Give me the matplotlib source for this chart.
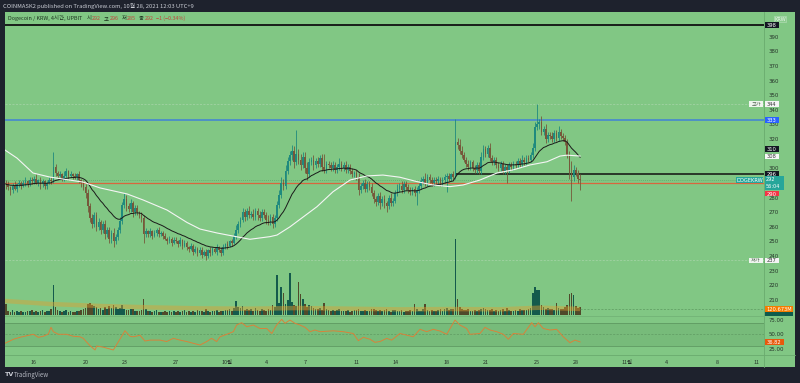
import numpy as np
import pandas as pd
import matplotlib
matplotlib.use('Agg')
import matplotlib.pyplot as plt
from matplotlib.patches import Rectangle

plt.rcParams['font.family'] = ['Noto Sans CJK KR', 'DejaVu Sans']

# 4시간봉, 9/13 20시 ~ 10/28 08시 (x = 9/16 0시 기준 일수)
first_open = 290
closes = [
    289,
    287, 285, 288, 286, 289, 290,   # 9/14
    288, 290, 291, 289, 292, 291,   # 9/15
    293, 290, 292, 289, 291, 288,   # 9/16
    290, 292, 291, 301, 297, 295,   # 9/17
    296, 293, 295, 298, 295, 296,   # 9/18
    295, 294, 296, 292, 290, 287,   # 9/19
    283, 274, 266, 262, 268, 260,   # 9/20
    263, 258, 262, 255, 258, 252,   # 9/21
    256, 250, 253, 258, 264, 275,   # 9/22
    279, 274, 272, 276, 270, 273,   # 9/23
    270, 268, 266, 255, 257, 255,   # 9/24
    257, 254, 256, 258, 255, 256,   # 9/25
    254, 252, 250, 252, 249, 251,   # 9/26
    250, 248, 251, 247, 249, 246,   # 9/27
    245, 247, 243, 245, 242, 244,   # 9/28
    241, 243, 240, 244, 242, 245,   # 9/29
    243, 246, 244, 242, 246, 248,   # 9/30
    247, 250, 249, 254, 258, 262,   # 10/1
    265, 270, 267, 271, 268, 269,   # 10/2
    267, 271, 268, 266, 270, 268,   # 10/3
    265, 263, 267, 262, 266, 275,   # 10/4
    282, 290, 288, 298, 305, 309,   # 10/5
    312, 304, 310, 306, 302, 308,   # 10/6
    300, 296, 304, 306, 302, 305,   # 10/7
    303, 307, 301, 299, 303, 302,   # 10/8
    300, 302, 299, 301, 303, 300,   # 10/9
    302, 299, 301, 298, 296, 297,   # 10/10
    294, 285, 288, 290, 286, 289,   # 10/11
    287, 283, 279, 277, 281, 276,   # 10/12
    279, 276, 274, 280, 276, 278,   # 10/13
    283, 286, 288, 285, 289, 287,   # 10/14
    285, 284, 286, 283, 285, 288,   # 10/15
    291, 293, 290, 294, 292, 290,   # 10/16
    292, 291, 293, 290, 292, 294,   # 10/17
    295, 293, 296, 294, 318, 316,   # 10/18
    312, 309, 306, 303, 301, 304,   # 10/19
    300, 299, 302, 298, 308, 313,   # 10/20
    310, 314, 307, 304, 306, 302,   # 10/21
    300, 303, 298, 301, 299, 302,   # 10/22
    301, 303, 302, 305, 303, 306,   # 10/23
    304, 307, 306, 309, 314, 328,   # 10/24
    330, 332, 325, 327, 320, 323,   # 10/25
    322, 320, 324, 321, 325, 322,   # 10/26
    321, 318, 309, 297, 294, 299,   # 10/27
    297, 293, 292,                  # 10/28
]
up_wick = [
    2,
    2, 1, 2, 3, 1, 2,
    1, 2, 3, 1, 2, 2,
    2, 3, 1, 2, 2, 1,
    1, 2, 2, 10, 2, 1,
    2, 1, 3, 2, 1, 2,
    1, 2, 1, 2, 1, 2,
    2, 3, 2, 3, 2, 2,
    3, 2, 2, 3, 2, 2,
    2, 3, 2, 2, 3, 2,
    4, 3, 2, 3, 2, 2,
    2, 1, 2, 2, 2, 1,
    2, 1, 2, 1, 2, 1,
    1, 2, 1, 2, 1, 2,
    2, 1, 2, 1, 2, 1,
    1, 2, 1, 2, 1, 2,
    2, 1, 2, 1, 2, 1,
    1, 2, 1, 2, 2, 1,
    2, 1, 2, 2, 3, 2,
    2, 3, 2, 2, 3, 2,
    3, 2, 2, 3, 2, 2,
    2, 3, 2, 2, 2, 3,
    3, 4, 3, 4, 3, 3,
    4, 3, 16, 3, 4, 3,
    3, 4, 3, 2, 3, 2,
    3, 2, 3, 9, 2, 2,
    2, 3, 2, 2, 4, 2,
    2, 3, 2, 2, 2, 1,
    2, 3, 2, 2, 3, 2,
    2, 3, 2, 2, 2, 3,
    2, 3, 2, 2, 3, 2,
    2, 3, 2, 3, 2, 2,
    2, 2, 1, 2, 2, 2,
    3, 2, 4, 2, 2, 2,
    2, 2, 2, 1, 2, 2,
    2, 2, 1, 2, 16, 3,
    4, 3, 2, 2, 3, 2,
    2, 2, 2, 2, 3, 3,
    2, 2, 3, 2, 2, 2,
    2, 2, 2, 2, 2, 2,
    2, 2, 2, 2, 2, 3,
    2, 2, 2, 2, 3, 4,
    14, 2, 4, 2, 3, 2,
    2, 3, 2, 2, 4, 2,
    2, 2, 2, 3, 8, 3,
    2, 2, 3,
]
dn_wick = [
    3,
    2, 3, 2, 1, 2, 2,
    2, 1, 2, 2, 1, 2,
    2, 1, 2, 3, 2, 2,
    2, 1, 2, 1, 2, 2,
    1, 2, 2, 1, 2, 1,
    2, 1, 2, 2, 3, 2,
    3, 4, 3, 3, 2, 3,
    2, 3, 2, 3, 2, 3,
    3, 4, 2, 2, 2, 2,
    2, 3, 2, 2, 3, 2,
    2, 2, 3, 6, 2, 2,
    2, 2, 1, 2, 2, 1,
    2, 1, 2, 1, 2, 1,
    1, 2, 1, 2, 1, 2,
    2, 1, 2, 1, 2, 1,
    2, 1, 3, 1, 2, 1,
    1, 2, 1, 2, 1, 1,
    2, 1, 2, 1, 2, 2,
    2, 2, 3, 2, 2, 2,
    2, 2, 3, 2, 2, 2,
    3, 2, 2, 3, 2, 2,
    2, 2, 3, 2, 2, 3,
    3, 4, 2, 3, 3, 2,
    3, 4, 2, 2, 3, 2,
    2, 2, 3, 2, 2, 2,
    2, 2, 2, 2, 2, 2,
    2, 2, 2, 2, 2, 2,
    2, 3, 2, 2, 2, 2,
    2, 2, 3, 3, 2, 4,
    2, 3, 4, 2, 2, 2,
    2, 2, 2, 2, 2, 2,
    2, 2, 2, 2, 8, 2,
    2, 2, 2, 2, 2, 2,
    2, 2, 2, 2, 2, 2,
    10, 2, 2, 2, 1, 3,
    2, 2, 2, 2, 2, 2,
    2, 2, 2, 2, 2, 2,
    2, 2, 2, 2, 2, 2,
    2, 2, 2, 2, 9, 2,
    2, 2, 2, 2, 2, 2,
    2, 2, 2, 2, 2, 2,
    2, 3, 2, 2, 3, 2,
    2, 2, 2, 2, 2, 2,
    2, 2, 2, 4, 16, 3,
    2, 3, 7,
]
# 거래량 (백만)
volume = [
    230,
    70, 55, 90, 60, 80, 65,
    75, 60, 50, 85, 70, 95,
    60, 80, 55, 70, 90, 65,
    70, 85, 120, 620, 170, 90,
    75, 60, 80, 95, 55, 70,
    65, 50, 85, 70, 90, 110,
    140, 220, 250, 200, 180, 160,
    120, 150, 100, 170, 130, 190,
    140, 200, 160, 120, 150, 210,
    130, 100, 90, 120, 110, 80,
    85, 70, 95, 320, 110, 80,
    70, 60, 75, 90, 55, 65,
    60, 75, 55, 80, 65, 70,
    55, 80, 60, 70, 90, 65,
    75, 60, 85, 55, 100, 70,
    80, 65, 110, 75, 60, 85,
    70, 95, 60, 80, 75, 100,
    90, 120, 80, 150, 290, 160,
    140, 180, 100, 130, 90, 110,
    80, 150, 100, 70, 120, 90,
    85, 130, 100, 210, 170, 830,
    250, 590, 450, 220, 300, 880,
    270, 200, 180, 680, 435, 340,
    230, 170, 200, 180, 150, 120,
    110, 140, 90, 250, 130, 100,
    80, 100, 70, 90, 110, 75,
    85, 70, 95, 60, 80, 100,
    90, 130, 80, 75, 100, 70,
    85, 110, 120, 90, 70, 105,
    75, 95, 110, 80, 65, 90,
    100, 85, 70, 95, 60, 80,
    70, 90, 75, 225, 110, 85,
    80, 120, 225, 95, 75, 100,
    85, 70, 90, 110, 80, 120,
    140, 100, 130, 110, 1590, 330,
    160, 120, 100, 90, 110, 85,
    80, 95, 70, 90, 130, 150,
    120, 100, 90, 110, 85, 95,
    75, 90, 110, 80, 140, 100,
    70, 85, 95, 75, 110, 90,
    100, 90, 120, 140, 460, 575,
    520, 520, 200, 160, 130, 150,
    110, 130, 95, 250, 140, 120,
    130, 160, 200, 440, 460, 420,
    180, 150, 170,
]

# 느린 이동평균 (흰색 선)
slow_ma_t = [-2.25, -1.32, -0.08, 1.24, 3.80, 5.12, 7.21, 8.45, 10.31, 11.86, 12.87,
             14.19, 15.43, 16.74, 18.29, 18.84, 19.84, 21.94, 23.18, 24.5, 25.81,
             27.05, 28.37, 29.69, 30.93, 32.25, 33.26, 34.57, 35.89, 37.13, 38.45,
             39.77, 40.78, 41.32, 42.33]
slow_ma_v = [312.5, 307, 296.8, 294, 290.6, 286.6, 282.5, 278.4, 271.5, 263, 258.5,
             255.8, 253.7, 251.5, 253.3, 254.4, 260, 273.8, 284, 292, 294.8,
             295.4, 293.9, 290.9, 288.6, 287.5, 288.6, 292, 296.8, 298.9, 302.3,
             304.5, 308.4, 309, 308.4]

# 거래량 이동평균
vol_ma_t = [-2.25, 1.24, 5.12, 8.99, 12.87, 16.74, 20.62, 24.5, 28.37, 32.25, 36.12, 39.22, 42.33]
vol_ma_v = [288, 225, 183, 154, 133, 126, 140, 126, 112, 119, 113, 147, 121]

# RSI
rsi_t = [-2.25, -1.6, -1.09, -0.31, -0.05, 0.34, 0.72, 1.11, 1.32, 1.5, 1.89, 2.53, 3.05,
         3.57, 3.82, 4.29, 4.73, 4.86, 5.37, 6.15, 6.8, 7.05, 7.44, 7.7, 8.22, 8.6,
         8.99, 9.77, 10.28, 10.8, 11.32, 11.84, 12.35, 12.87, 13.39, 13.77, 14.16,
         14.42, 14.94, 15.45, 15.71, 16.1, 16.49, 17.0, 17.52, 18.04, 18.43, 18.81,
         19.2, 19.46, 19.84, 20.23, 20.62, 21.01, 21.4, 21.78, 22.17, 23.2, 23.98,
         24.75, 25.14, 25.53, 26.05, 26.43, 26.82, 27.34, 27.73, 28.37, 29.4, 29.92,
         30.44, 30.95, 31.47, 31.99, 32.64, 33.02, 33.54, 33.8, 34.57, 34.96, 35.35,
         35.87, 36.38, 36.77, 37.16, 37.93, 38.58, 38.84, 39.1, 39.48, 40.0, 40.52,
         41.03, 41.55, 41.94, 42.33]
rsi_v = [34.5, 41.4, 44.8, 48.8, 50, 44.8, 46.6, 50.5, 62, 54.5, 50, 50, 46.6,
         45.7, 43, 31.5, 23, 29.8, 27.8, 23, 46.6, 56.2, 46.6, 45.7, 48.3, 38.4,
         40, 40, 37.5, 43, 40, 37.5, 34.5, 31.5, 37.5, 43, 37.5,
         45.7, 50, 54.5, 66, 70, 63, 66, 60, 60, 51.4, 66,
         75.8, 69, 74.6, 69, 66, 62, 54.5, 57.4, 54.5, 56, 54.5,
         51.4, 39, 44.8, 41.4, 36.2, 37.5, 43, 40, 51.4, 45.7, 58.6,
         54.5, 58.6, 55.7, 50, 74.6, 66, 60, 50, 51.4, 62, 57.4,
         54.5, 50, 41.4, 51.4, 50, 70, 63, 70, 60, 57.4, 58.6,
         45.7, 35.5, 40, 36.82]

day_ticks = [0, 4, 7, 11, 15, 18, 21, 25, 28, 32, 35, 39, 42, 46, 49, 53, 56]
day_labels = ['16', '20', '23', '27', '10월', '4', '7', '11', '14', '18', '21', '25', '28',
              '11월', '4', '8', '11']
# 310은 라벨 박스에 가려져 보이지 않음
price_ticks = [210, 220, 230, 240, 250, 260, 270, 280, 290, 300,
               320, 330, 340, 350, 360, 370, 380, 390]

GREEN = '#81c784'
DARK = '#1e222d'
UP = '#1f8a7e'
DN = '#76583a'
VUP = '#145a4c'
VDN = '#504a2a'
FS = 3.9
LBL = '#26342a'
NUM = ['DejaVu Sans']
KR = ['Noto Sans CJK KR', 'DejaVu Sans']

n = len(closes)
t = -13 / 6 + np.arange(n) / 6.0
c = np.array(closes, float)
o = np.r_[first_open, c[:-1]]
hi = np.maximum(o, c) + np.array(up_wick)
lo = np.minimum(o, c) - np.array(dn_wick)
rising = c >= o
fast_ma = pd.Series(c).ewm(span=20, adjust=False).mean()

fig = plt.figure(figsize=(8, 3.83), dpi=100, facecolor=DARK)
bg = fig.add_axes([0, 0, 1, 1], zorder=-5)
bg.set_xlim(0, 800)
bg.set_ylim(383, 0)
bg.axis('off')
bg.add_patch(Rectangle((4.5, 12.3), 790.5, 354.7, fc=GREEN, ec='none'))
bg.plot([764, 764], [12.3, 367], color='#6aab6e', lw=0.6)
bg.plot([4.5, 795], [355, 355], color='#6aab6e', lw=0.6)
bg.plot([4.5, 764], [316, 316], color='#72b376', lw=0.6)

XL = (-2.287, 56.59)
ax = fig.add_axes([4.5 / 800, 1 - 316 / 383, 759.5 / 800, 303 / 383])
ax.set_facecolor('none')
ax.set_xlim(*XL)
ax.set_ylim(199.06, 406.17)
for s in ax.spines.values():
    s.set_visible(False)
ax.set_xticks([])

axv = ax.twinx()
axv.set_ylim(-27.3, 6335.7)
axv.set_xlim(*XL)
axv.axis('off')
axv.bar(t, volume, width=0.13, color=np.where(rising, VUP, VDN), lw=0, zorder=2)
axv.plot(vol_ma_t, vol_ma_v, color='#e0a030', lw=3.2, alpha=0.45, solid_capstyle='butt')
axv.plot([t[-1], XL[1]], [120.673, 120.673], color='#5d9a60', lw=0.5, ls=(0, (3, 2)))

# twinx 이후에 가격축을 오른쪽으로
ax.yaxis.tick_right()
ax.set_yticks(price_ticks)
ax.set_yticklabels([str(p) for p in price_ticks], family=NUM)
ax.tick_params(axis='y', which='both', left=False, labelleft=False, right=False,
               labelright=True, length=0, pad=3.5, labelsize=FS, labelcolor=LBL)

# 수평선
ax.axhline(398, color='#111111', lw=1.3, zorder=2)
ax.axhline(333, color='#4a8ccc', lw=1.3, zorder=2)
ax.axhline(290, color='#d8663e', lw=0.9, zorder=2)
ax.axhline(344, color='#a8d4aa', lw=0.5, ls=(0, (3, 2)), zorder=1)
ax.axhline(237, color='#a8d4aa', lw=0.5, ls=(0, (3, 2)), zorder=1)
ax.axhline(292, color='#5aa868', lw=0.6, ls=(0, (1, 1.5)), zorder=1)
spike = int(np.argmax(hi[200:230])) + 200
ax.hlines(296, t[spike], XL[1], color='#111111', lw=1.1, zorder=2)

ax.vlines(t, lo, hi, colors=np.where(rising, UP, DN), lw=0.6, zorder=3)
body = np.where(np.abs(c - o) < 0.5, 0.5, c - o)
ax.bar(t, body, bottom=o, width=0.13, color=np.where(rising, UP, DN), lw=0, zorder=4)
ax.plot(t, fast_ma, color='#1a1a1a', lw=0.7, zorder=5)
ax.plot(slow_ma_t, slow_ma_v, color='#f5f5f5', lw=0.8, zorder=5)

# RSI
axr = fig.add_axes([4.5 / 800, 1 - 355 / 383, 759.5 / 800, 39 / 383])
axr.set_facecolor('none')
axr.set_xlim(*XL)
axr.set_ylim(14.31, 81.55)
for s in axr.spines.values():
    s.set_visible(False)
axr.axhspan(30, 70, color='#77bb7a', lw=0)
axr.axhline(70, color='#5f9a62', lw=0.6)
axr.axhline(30, color='#5f9a62', lw=0.6)
axr.axhline(50, color='#5f9a62', lw=0.5, ls=(0, (3, 2)))
axr.plot(rsi_t, rsi_v, color='#d9823a', lw=0.7)
axr.yaxis.tick_right()
axr.set_yticks([25, 50, 75])
axr.set_yticklabels(['25.00', '50.00', '75.00'], family=NUM)
axr.tick_params(axis='y', length=0, pad=3.5, labelsize=FS, labelcolor=LBL)
axr.set_xticks(day_ticks)
axr.set_xticklabels(day_labels)
axr.tick_params(axis='x', length=0, pad=3.6, labelsize=FS, labelcolor=LBL)

# 라벨 박스 (픽셀 좌표)
fg = fig.add_axes([0, 0, 1, 1], zorder=10)
fg.set_xlim(0, 800)
fg.set_ylim(383, 0)
fg.axis('off')


def py(a, v):
    return 383 - a.transData.transform((0, v))[1]


def tag(x0, x1, y, txt, fc, tc='white', h=5.6, ec='none', fam=NUM):
    fg.add_patch(Rectangle((x0, y - h / 2), x1 - x0, h, fc=fc, ec=ec, lw=0.4))
    fg.text((x0 + x1) / 2, y, txt, color=tc, fontsize=3.7, ha='center',
            va='center_baseline', family=fam)


tag(774, 786, 18.6, 'KRW', '#8ccc8f', tc='#eaf5ea', h=6, ec='#b8dfba')
tag(764.5, 779, py(ax, 398), '398', '#131722')
tag(749, 763, py(ax, 344), '고가', '#eef5ee', tc='#556655', fam=KR)
tag(764.5, 779, py(ax, 344), '344', '#f4f4f4', tc='#333333')
tag(764.5, 779, py(ax, 333), '333', '#2962ff')
tag(764.5, 779, py(ax, 310) - 4.6, '310', '#131722')
tag(764.5, 779, py(ax, slow_ma_v[-1]) + 0.4, '308', '#f8f8f8', tc='#333333')
tag(764.5, 779, py(ax, 296), '296', '#131722')
tag(736, 763, py(ax, closes[-1]), 'DOGEKRW', '#26a69a', h=6)
fg.add_patch(Rectangle((764.5, 176.3), 19.5, 13.4, fc='#26a69a', ec='none'))
fg.text(766, 179.3, str(closes[-1]), color='white', fontsize=3.6, va='center_baseline', family=NUM)
fg.text(766, 186.4, '56:04', color='white', fontsize=3.6, va='center_baseline', family=NUM)
tag(764.5, 779, py(ax, 290) + 10.6, '290', '#f23645')
tag(749, 763, py(ax, 237), '저가', '#eef5ee', tc='#556655', fam=KR)
tag(764.5, 779, py(ax, 237), '237', '#f4f4f4', tc='#333333')
yv = 383 - axv.transData.transform((0, 120.673))[1]
tag(764.5, 793, yv, '120.673M', '#f57c00')
fg.add_patch(Rectangle((764.5, yv + 2.8), 28.5, 316 - yv - 2.8, fc='#0f5c4c', ec='none'))
tag(764.5, 784, py(axr, rsi_v[-1]), f'{rsi_v[-1]:.2f}', '#e8590c')

# 텍스트
fig.text(3 / 800, 1 - 5.5 / 383, 'COINMASK2 published on TradingView.com, 10월 28, 2021 12:03 UTC+9',
         fontsize=4.2, color='#c9ccd4', va='center')

# 범례: 앞 글자 끝에 이어 붙임
rend = fig.canvas.get_renderer()
x = 8.0
pieces = [('Dogecoin / KRW, 4시간, UPBIT', '#1d3320', 4.5),
          ('시', '#1d3320', 0.4), ('292', '#c0463c', 3.0),
          ('고', '#1d3320', 0.4), ('296', '#c0463c', 3.0),
          ('저', '#1d3320', 0.4), ('285', '#c0463c', 3.0),
          ('종', '#1d3320', 0.4), ('292', '#c0463c', 3.0),
          ('\u22121 (\u22120.34%)', '#c0463c', 0)]
for txt, col, gap in pieces:
    tx = fg.text(x, 17.6, txt, fontsize=3.9, color=col, va='center_baseline')
    bb = tx.get_window_extent(rend)
    x += bb.width + gap

fg.text(5, 375, 'TV', fontsize=4.6, color='#c9ccd4', va='center', fontweight='bold', family=NUM)
fg.text(14, 375, 'TradingView', fontsize=4.4, color='#b2b5be', va='center')

fig.savefig('out.png', dpi=100, facecolor=DARK)
